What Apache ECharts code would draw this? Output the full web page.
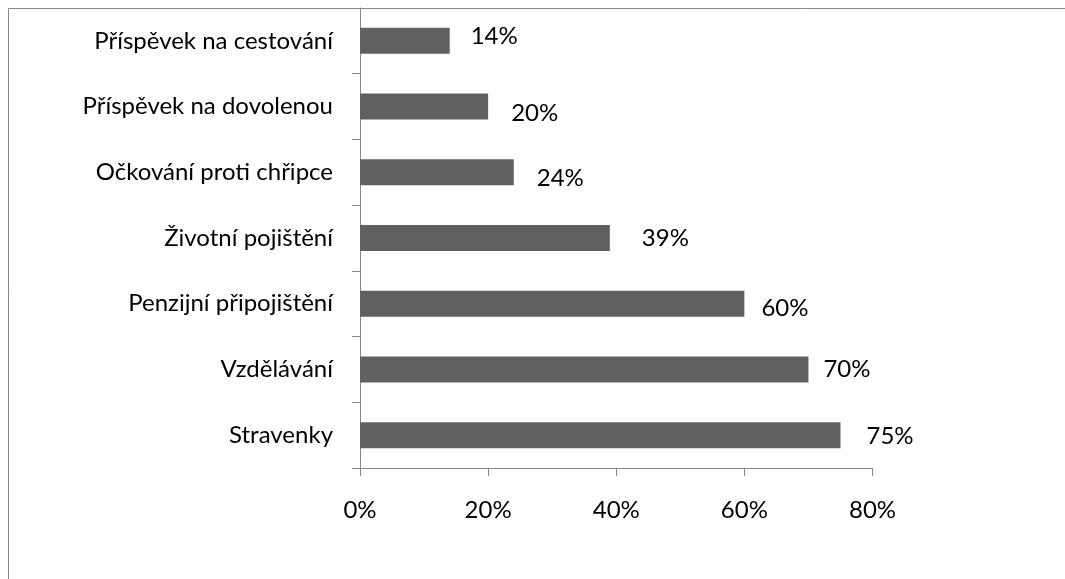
<!DOCTYPE html>
<html><head><meta charset="utf-8">
<script src="https://cdn.jsdelivr.net/npm/echarts@6/dist/echarts.min.js"></script>
<style>html,body{margin:0;padding:0;background:#fff}#c{width:1065px;height:579px}</style>
</head><body><div id="c"></div>
<script>
const categories = ['Příspěvek na cestování','Příspěvek na dovolenou','Očkování proti chřipce','Životní pojištění','Penzijní připojištění','Vzdělávání','Stravenky'];
const values = [14, 20, 24, 39, 60, 70, 75];
const xTicks = [0, 20, 40, 60, 80];
// label nudges (style only)
const labelDx = [21, 23, 23, 32, 17, 15, 26];
const labelDy = [-5, 7, 6, 0, 5, 0, 1];

const FONT = 'Lato';
const chart = echarts.init(document.getElementById('c'), null, {renderer:'canvas'});
chart.setOption({
  animation:false,
  backgroundColor:'#fff',
  grid:{left:360, top:8, right:192.5, bottom:111, containLabel:false},
  xAxis:{type:'value', min:xTicks[0], max:xTicks[xTicks.length-1], interval:20,
    axisLine:{show:true, lineStyle:{color:'#888', width:1}},
    axisTick:{show:true, length:8, lineStyle:{color:'#888'}},
    splitLine:{show:false},
    axisLabel:{formatter:'{value}%', color:'#000', fontFamily:FONT, fontSize:24, margin:30}
  },
  yAxis:{type:'category', data:categories, inverse:true,
    axisLine:{show:true, lineStyle:{color:'#888', width:1}},
    axisTick:{show:true, length:8, lineStyle:{color:'#888'}},
    axisLabel:{color:'#000', fontFamily:FONT, fontSize:24, margin:27}
  },
  graphic:[{type:'rect', shape:{x:8.5, y:8.5, width:1200, height:700}, style:{fill:null, stroke:'#888', lineWidth:1}, z:-1}],
  series:[{type:'bar', barWidth:26,
    itemStyle:{color:'#606060'},
    data: values.map((v,i)=>({value:v, label:{offset:[labelDx[i], labelDy[i]]}})),
    label:{show:true, position:'right', distance:0, formatter:'{c}%', color:'#000', fontFamily:FONT, fontSize:24}
  }]
});
</script></body></html>
